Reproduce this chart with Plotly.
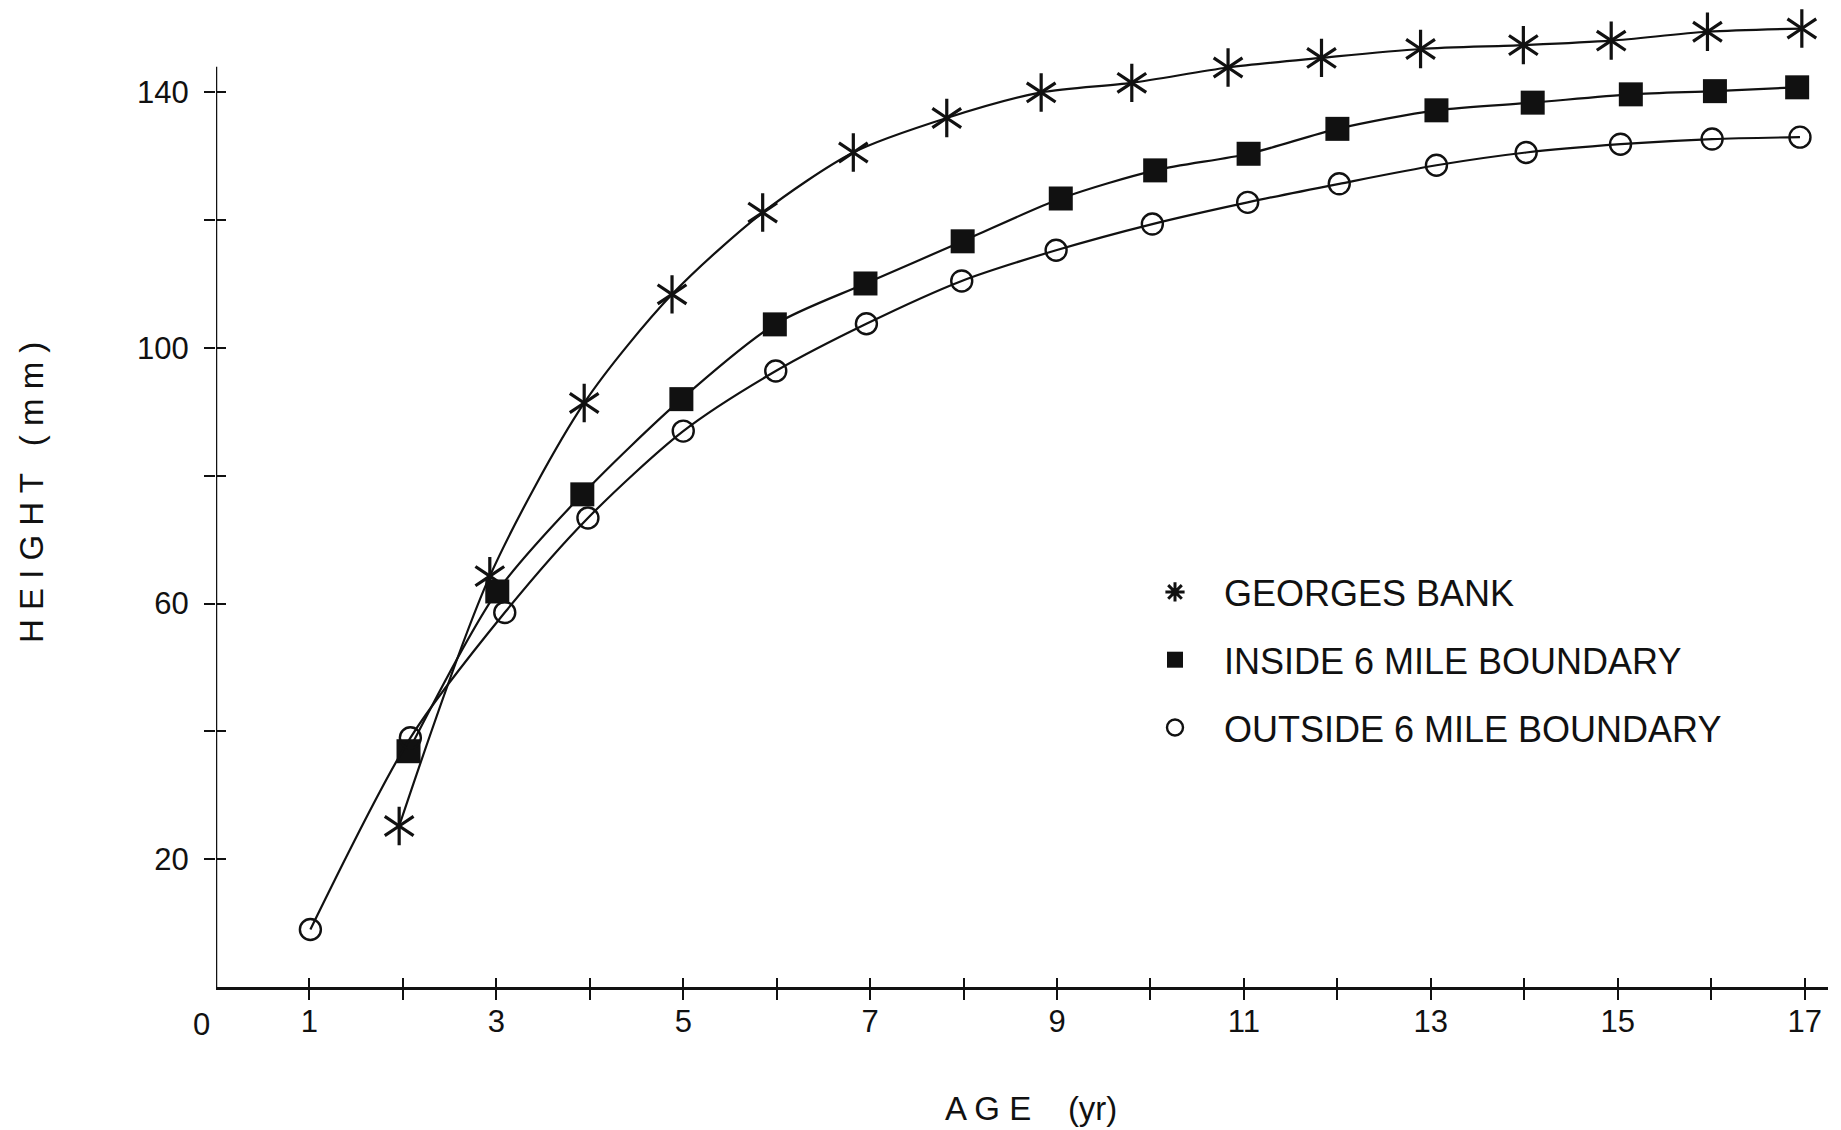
import plotly.graph_objects as go

# ---- data ----
georges_age = [1.96, 2.93, 3.94, 4.88, 5.85, 6.82, 7.82, 8.83, 9.80, 10.83, 11.83, 12.89, 13.99, 14.93, 15.96, 16.97]
georges_height = [25.2, 64.3, 91.4, 108.4, 121.2, 130.6, 136.0, 140.0, 141.5, 143.9, 145.4, 146.8, 147.4, 148.1, 149.5, 150.0]

inside_age = [2.06, 3.01, 3.92, 4.98, 5.98, 6.95, 7.99, 9.04, 10.05, 11.05, 12.00, 13.06, 14.09, 15.14, 16.04, 16.92]
inside_height = [36.9, 61.9, 77.1, 92.0, 103.7, 110.1, 116.7, 123.4, 127.8, 130.4, 134.3, 137.2, 138.4, 139.7, 140.2, 140.8]

outside_age = [1.01, 2.08, 3.09, 3.98, 5.00, 5.99, 6.96, 7.98, 8.99, 10.02, 11.04, 12.02, 13.06, 14.02, 15.03, 16.01, 16.95]
outside_height = [9.0, 39.0, 58.6, 73.4, 87.0, 96.4, 103.8, 110.5, 115.3, 119.4, 122.8, 125.7, 128.6, 130.6, 131.9, 132.7, 133.0]

series_names = ["GEORGES BANK", "INSIDE 6 MILE BOUNDARY", "OUTSIDE 6 MILE BOUNDARY"]

x_tick_vals = list(range(1, 18))
x_tick_text = [str(v) if v % 2 == 1 else "" for v in x_tick_vals]
y_tick_vals = [20, 40, 60, 80, 100, 120, 140]
y_tick_text = ["20", "", "60", "", "100", "", "140"]

X_RANGE = [0, 17.25]
Y_RANGE = [0, 152.9]
Y_AXIS_TOP = 144

INK = "#111111"
TICK_FONT = dict(family="Liberation Sans Narrow, Liberation Sans, Arial, sans-serif", size=31, color=INK)
LEG_FONT = dict(family="Liberation Sans, Arial, sans-serif", size=36, color=INK)
TITLE_FONT = dict(family="Liberation Sans, Arial, sans-serif", size=33, color=INK)

line_style = dict(color=INK, width=2.2, shape="spline", smoothing=0.8)

# six-spoked asterisk = "y-up" + "y-down" strokes on the same points
ast_up = dict(symbol="y-up-open", size=24, color=INK, line=dict(width=3.2, color=INK))
ast_down = dict(symbol="y-down-open", size=24, color=INK, line=dict(width=3.2, color=INK))
sq_marker = dict(symbol="square", size=24, color=INK, line=dict(width=0, color=INK))
ci_marker = dict(symbol="circle-open", size=21, color=INK, line=dict(width=2.4, color=INK))

fig = go.Figure()
fig.add_trace(go.Scatter(x=georges_age, y=georges_height, mode="lines+markers",
                         name=series_names[0], showlegend=False, line=line_style,
                         marker=ast_up, cliponaxis=False))
fig.add_trace(go.Scatter(x=georges_age, y=georges_height, mode="markers",
                         name=series_names[0], showlegend=False,
                         marker=ast_down, cliponaxis=False))
fig.add_trace(go.Scatter(x=inside_age, y=inside_height, mode="lines+markers",
                         name=series_names[1], showlegend=False, line=line_style,
                         marker=sq_marker, cliponaxis=False))
fig.add_trace(go.Scatter(x=outside_age, y=outside_height, mode="lines+markers",
                         name=series_names[2], showlegend=False, line=line_style,
                         marker=ci_marker, cliponaxis=False))

# legend-only entries (symbols without line)
legend_markers = [
    dict(symbol="asterisk-open", size=26, color=INK, line=dict(width=3, color=INK)),
    sq_marker, ci_marker,
]
for i, (mk, nm) in enumerate(zip(legend_markers, series_names)):
    fig.add_trace(go.Scatter(
        x=[None], y=[None], mode="markers", name=nm, marker=mk,
        legendgroup=f"g{i}", showlegend=True,
    ))

# dummy trace for the overlay axes (inner half of crossing ticks)
fig.add_trace(go.Scatter(x=[None], y=[None], xaxis="x2", yaxis="y2",
                         showlegend=False, hoverinfo="skip"))

# y axis line (stops short of the plot top, as in the original)
fig.add_shape(type="line", xref="x", yref="y", x0=0, x1=0, y0=0, y1=Y_AXIS_TOP,
              line=dict(color=INK, width=2.5))

fig.add_annotation(text="0", xref="x", yref="paper", x=0, y=0, xshift=-15, yshift=-18,
                   yanchor="top", xanchor="center", showarrow=False, font=TICK_FONT)
fig.add_annotation(text="H E I G H T   ( m m )", xref="paper", yref="paper",
                   x=(31 - 216) / 1612, y=(987 - 493) / 977, textangle=-90,
                   xanchor="center", yanchor="middle",
                   showarrow=False, font=TITLE_FONT)
fig.add_annotation(text="A G E    (yr)", xref="paper", yref="paper",
                   x=(1031 - 216) / 1612, y=(987 - 1108) / 977,
                   xanchor="center", yanchor="middle",
                   showarrow=False, font=TITLE_FONT)

fig.update_layout(
    width=1841, height=1130,
    margin=dict(l=216, r=13, t=10, b=143),
    paper_bgcolor="white", plot_bgcolor="white",
    xaxis=dict(range=X_RANGE, tickvals=x_tick_vals, ticktext=x_tick_text,
               ticks="outside", ticklen=10, tickwidth=2, tickcolor=INK,
               showline=True, linecolor=INK, linewidth=2.5,
               showgrid=False, zeroline=False, tickfont=TICK_FONT,
               ticklabelstandoff=-5),
    yaxis=dict(range=Y_RANGE, tickvals=y_tick_vals, ticktext=y_tick_text,
               ticks="outside", ticklen=11, tickwidth=2, tickcolor=INK,
               showline=False, showgrid=False, zeroline=False, tickfont=TICK_FONT,
               ticklabelstandoff=9),
    xaxis2=dict(range=X_RANGE, overlaying="x", anchor="y2", side="bottom",
                tickvals=x_tick_vals, ticks="inside", ticklen=9, tickwidth=2, tickcolor=INK,
                showticklabels=False, showgrid=False, zeroline=False, showline=False),
    yaxis2=dict(range=Y_RANGE, overlaying="y", anchor="x2", side="left",
                tickvals=y_tick_vals, ticks="inside", ticklen=10, tickwidth=2, tickcolor=INK,
                showticklabels=False, showgrid=False, zeroline=False, showline=False),
    legend=dict(x=(1126 - 216) / 1612, y=(987 - 562) / 977, xanchor="left", yanchor="top",
                font=LEG_FONT, tracegroupgap=18, itemwidth=88,
                bgcolor="rgba(0,0,0,0)"),
    showlegend=True,
)

fig.write_html("out.html")
